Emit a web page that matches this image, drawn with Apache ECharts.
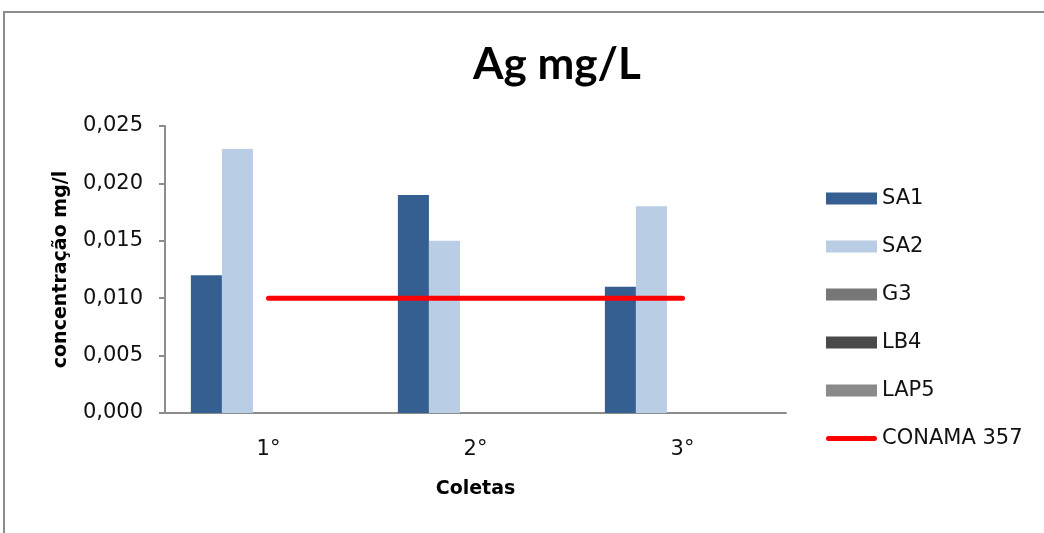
<!DOCTYPE html>
<html>
<head>
<meta charset="utf-8">
<title>Ag mg/L</title>
<script src="https://cdn.jsdelivr.net/npm/echarts@6/dist/echarts.min.js"></script>
<style>
	html, body {
		margin: 0;
		padding: 0;
		background: #fff;
	}
	#box {
		width: 1044px;
		height: 533px;
	}
</style>
</head>
<body>
<div id="box"></div>
<script>
	// dados
	var coletas = ['1°', '2°', '3°'];
	var sa1 = [0.012, 0.019, 0.011];
	var sa2 = [0.023, 0.015, 0.018];
	var g3 = [null, null, null];
	var lb4 = [null, null, null];
	var lap5 = [null, null, null];
	var conama = [0.010, 0.010, 0.010];
	var yTicks = [0, 0.005, 0.010, 0.015, 0.020, 0.025];

	var fonte = '"DejaVu Sans", sans-serif';

	// ícone de linha fina na legenda (pontinhos em cima e embaixo só aumentam a caixa)
	var iconeLinha = 'path://M0,0 L0.01,0 L0,0.01 Z M2.5,3.5 H48.5 A2.5,2.5 0 0 1 48.5,8.5 H2.5 A2.5,2.5 0 0 1 2.5,3.5 Z M0,12 L0.01,12 L0,11.99 Z';

	var myChart = echarts.init(document.getElementById('box'));

	var option = {
		backgroundColor: '#fff',
		animation: false,
		textStyle: { fontFamily: fonte },
		graphic: [{
			type: 'rect',
			shape: { x: 4, y: 12, width: 1100, height: 600 },
			style: { fill: 'none', stroke: '#8c8c8c', lineWidth: 2 },
			silent: true
		}],
		title: {
			text: 'Ag mg/L',
			left: 552,
			textAlign: 'center',
			top: 38,
			textStyle: { fontSize: 44, fontWeight: 'bold', color: '#000', fontFamily: 'Lato, sans-serif' }
		},
		legend: {
			orient: 'vertical',
			left: 826,
			top: 188,
			padding: 0,
			icon: 'rect',
			itemWidth: 51,
			itemHeight: 12,
			itemGap: 27,
			textStyle: { fontSize: 21, lineHeight: 21, color: '#111' },
			data: ['SA1', 'SA2', 'G3', 'LB4', 'LAP5', { name: 'CONAMA 357', icon: iconeLinha }]
		},
		grid: {
			left: 165,
			right: 258,
			top: 126,
			bottom: 120
		},
		xAxis: {
			type: 'category',
			data: coletas,
			name: 'Coletas',
			nameLocation: 'middle',
			nameGap: 67,
			nameTextStyle: { fontSize: 19, fontWeight: 'bold', color: '#000' },
			axisLine: { lineStyle: { color: '#8c8c8c', width: 2 } },
			axisTick: { show: false },
			axisLabel: { fontSize: 21, color: '#111', margin: 26 }
		},
		yAxis: {
			type: 'value',
			min: yTicks[0],
			max: yTicks[yTicks.length - 1],
			interval: 0.005,
			name: 'concentração mg/l',
			nameLocation: 'middle',
			nameGap: 94,
			nameTextStyle: { fontSize: 19, fontWeight: 'bold', color: '#000' },
			axisLine: { show: true, lineStyle: { color: '#8c8c8c', width: 2 } },
			axisTick: { show: true, length: 6, lineStyle: { color: '#8c8c8c', width: 2 } },
			splitLine: { show: false },
			axisLabel: {
				fontSize: 21,
				color: '#111',
				margin: 22,
				formatter: function (v) {
					return v.toFixed(3).replace('.', ',');
				}
			}
		},
		series: [{
				name: 'SA1',
				type: 'bar',
				barGap: 0,
				barCategoryGap: '25%',
				itemStyle: { color: '#365f91' },
				data: sa1
			},
			{
				name: 'SA2',
				type: 'bar',
				itemStyle: { color: '#b9cde5' },
				data: sa2
			},
			{
				name: 'G3',
				type: 'bar',
				itemStyle: { color: '#777777' },
				data: g3
			},
			{
				name: 'LB4',
				type: 'bar',
				itemStyle: { color: '#4a4a4a' },
				data: lb4
			},
			{
				name: 'LAP5',
				type: 'bar',
				itemStyle: { color: '#8a8a8a' },
				data: lap5
			},
			{
				name: 'CONAMA 357',
				type: 'line',
				symbol: 'none',
				itemStyle: { color: '#ff0000' },
				lineStyle: { color: '#ff0000', width: 5, cap: 'round' },
				data: conama
			}
		]
	};

	myChart.setOption(option);
</script>
</body>
</html>
